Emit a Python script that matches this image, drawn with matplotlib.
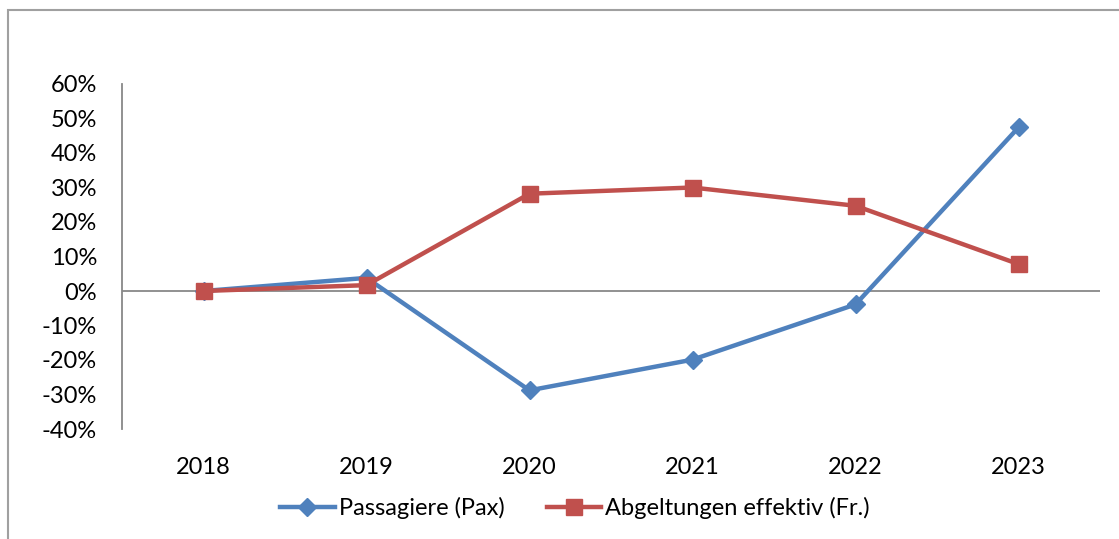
import matplotlib
matplotlib.use("Agg")
import matplotlib.pyplot as plt
from matplotlib.patches import Rectangle
from matplotlib.ticker import FuncFormatter

years = ["2018", "2019", "2020", "2021", "2022", "2023"]
passagiere = [0.0, 0.038, -0.288, -0.199, -0.039, 0.474]
abgeltungen = [0.0, 0.017, 0.282, 0.300, 0.247, 0.078]
yticks = [-0.4, -0.3, -0.2, -0.1, 0.0, 0.1, 0.2, 0.3, 0.4, 0.5, 0.6]

plt.rcParams['font.family'] = ['Lato', 'DejaVu Sans']

W, H = 1119, 539
fig = plt.figure(figsize=(W / 100, H / 100), dpi=100)
ax = fig.add_axes([122 / W, 1 - 429 / H, (1100 - 122) / W, (429 - 84) / H])

blue = "#4F81BD"
red = "#C0504D"
x = list(range(len(years)))
ax.axhline(0, color="#888888", lw=1.3, zorder=1)
ax.plot(x, passagiere, color=blue, lw=3.2, marker="D", ms=9.5, label="Passagiere (Pax)", zorder=3)
ax.plot(x, abgeltungen, color=red, lw=3.2, marker="s", ms=11, label="Abgeltungen effektiv (Fr.)", zorder=4)

ax.set_xlim(-0.5, len(years) - 0.5)
ax.set_ylim(-0.4, 0.6)
ax.set_yticks(yticks)
ax.yaxis.set_major_formatter(FuncFormatter(lambda v, p: f"{round(v * 100):d}%"))
ax.set_xticks(x)
ax.set_xticklabels(years)
ax.tick_params(axis="y", length=0, pad=18, labelsize=17, labelcolor="#000000")
ax.tick_params(axis="x", length=0, pad=20, labelsize=17, labelcolor="#000000")
for s in ["top", "right", "bottom"]:
    ax.spines[s].set_visible(False)
ax.spines["left"].set_color("#888888")
ax.spines["left"].set_linewidth(1.3)

fig.legend(loc="center", bbox_to_anchor=(575 / W, 1 - 508 / H), ncol=2, frameon=False,
           fontsize=17, handlelength=2.3, handletextpad=0.17, columnspacing=1.8)

fig.patches.append(Rectangle((8 / W, -0.5), 2, 1.5 - 10 / H, transform=fig.transFigure,
                             fill=False, edgecolor="#A0A0A0", lw=1.5))

fig.savefig("out.png", dpi=100)
